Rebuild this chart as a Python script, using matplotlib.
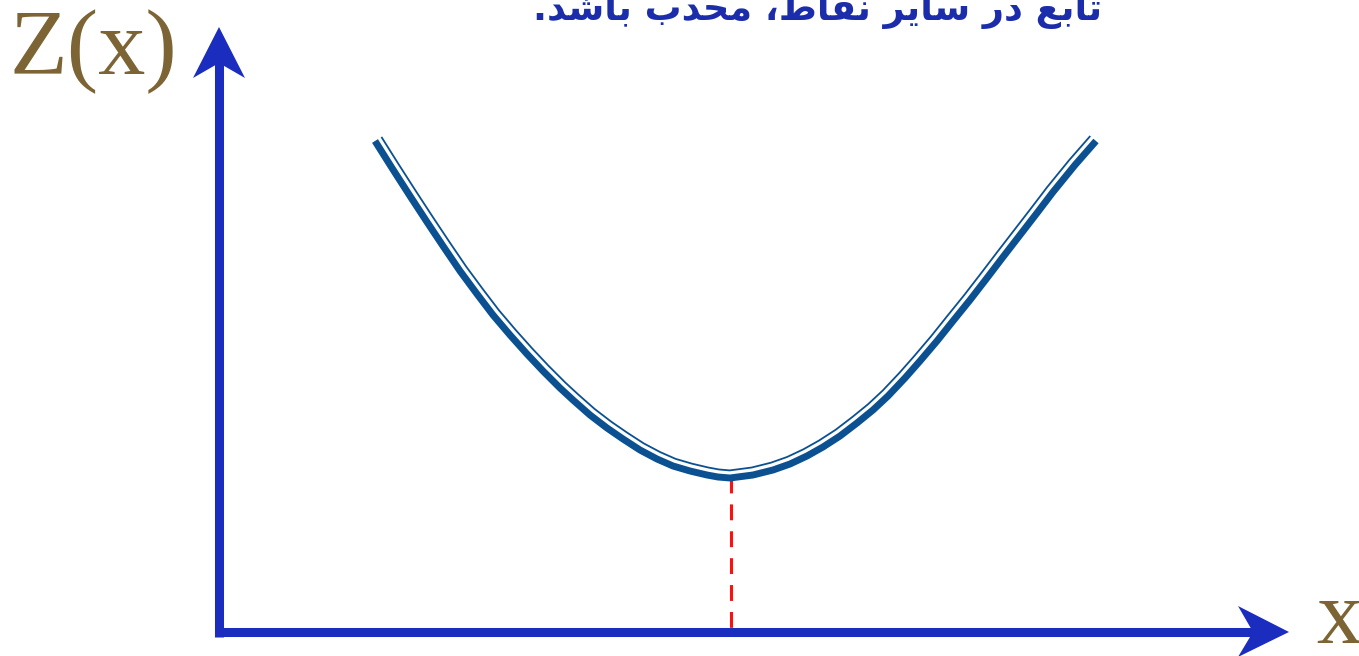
import numpy as np
import matplotlib.pyplot as plt
from matplotlib.patches import Polygon

# curve (x to the right of the Z axis, Z above the x axis)
x_vals = [157, 174, 192, 209, 225, 242, 259, 275, 292, 309, 325, 342,
          355, 372, 389, 405, 422, 439, 455, 472, 489, 500, 512,
          535, 555, 572, 589, 605, 622, 639, 655, 670, 687, 702, 719,
          735, 752, 769, 785, 802, 819, 835, 857, 878]
z_vals = [489, 462, 434, 408, 384, 359, 336, 315, 295, 276, 259, 242,
          230, 215, 202, 191, 180, 171, 164, 159, 155, 153, 152,
          155, 160, 166, 174, 183, 194, 207, 220, 234, 252, 269, 289,
          309, 330, 352, 373, 395, 417, 438, 465, 489]
x_min = 513
z_min = 153

# "تابع در سایر نقاط، محدب باشد." written in shaped glyphs, visual order
title = ('.\uFEAA\uFEB7\uFE8E\uFE91 \uFE8F\uFEAA\uFEA4\uFEE3 '
         '\u060C\uFEC1\uFE8E\uFED8\uFEE7 \uFEAE\uFBFE\uFE8E\uFEB3 '
         '\uFEAD\uFEA9 \uFECA\uFE91\uFE8E\uFE97')

axis_blue = '#1B2DBE'
curve_blue = '#0B5091'
brown = '#7D6435'

fig = plt.figure(figsize=(13.59, 6.56), dpi=100)
ax = fig.add_axes([0, 0, 1, 1])
ax.set_xlim(-218, 1141)
ax.set_ylim(-26, 630)
ax.axis('off')

# axes with arrow heads
ax.plot([1, 1], [-7, 570], color=axis_blue, lw=6.5, solid_capstyle='butt')
ax.plot([0, 1037], [-2, -2], color=axis_blue, lw=6.5, solid_capstyle='butt')
ax.add_patch(Polygon([[1, 603], [27, 552], [1, 567], [-25, 552]],
                     closed=True, color=axis_blue, lw=0))
ax.add_patch(Polygon([[1071, -2], [1020, 24], [1035, -2], [1020, -27]],
                     closed=True, color=axis_blue, lw=0))

# red dashed line from the minimum down to the x axis
ax.plot([x_min, x_min], [z_min, -2], color='#FF1010', lw=2.2,
        linestyle=(0, (5.2, 3.6)))

# compound curve: thick line plus a thin line on the inner side
ax.plot(x_vals, z_vals, color=curve_blue, lw=5, solid_capstyle='butt',
        solid_joinstyle='round')
pts = ax.transData.transform(np.column_stack([x_vals, z_vals]))
d = np.gradient(pts, axis=0)
n = np.column_stack([-d[:, 1], d[:, 0]])
n /= np.linalg.norm(n, axis=1)[:, None]
thin = ax.transData.inverted().transform(pts + 7.6 * n)
ax.plot(thin[:, 0], thin[:, 1], color=curve_blue, lw=1.3,
        solid_capstyle='butt', solid_joinstyle='round')

ax.text(-208, 556, 'Z(x)', family='Liberation Serif', fontsize=68,
        color=brown, ha='left', va='baseline')
ax.text(1098, -13, 'x', family='Liberation Serif', fontsize=66,
        color=brown, ha='left', va='baseline')
ax.text(600, 610, title, family='DejaVu Sans', fontweight='bold',
        fontsize=26.5, color='#1B2DAA', ha='center', va='baseline')

fig.savefig('out.png', dpi=100)
